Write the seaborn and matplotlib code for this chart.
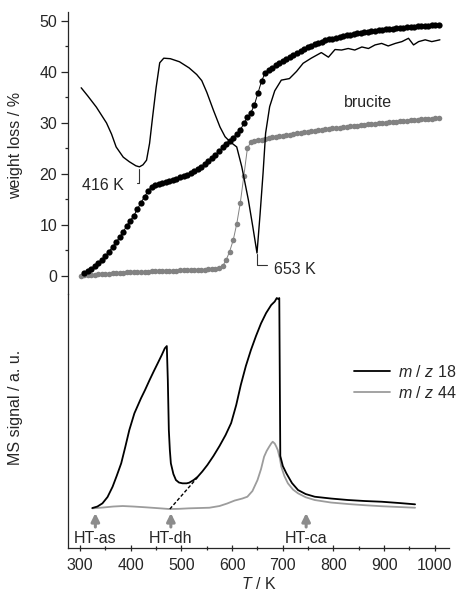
import matplotlib.pyplot as plt
import seaborn as sns
import numpy as np
from matplotlib.ticker import MultipleLocator

# --- data ---

# TG sampling temperatures (K), one point every 7 K
tg_temp = np.arange(301, 1009, 7)

# weight loss of the HT sample (black dots), starts at 308 K
tg_ht = [0.6, 1.0, 1.45, 1.9, 2.55, 3.2, 3.95, 4.8, 5.7, 6.65,
         7.6, 8.65, 9.85, 10.85, 11.85, 13.1, 14.4, 15.5, 16.7, 17.45,
         17.8, 18.0, 18.2, 18.4, 18.6, 18.85, 19.1, 19.35, 19.6, 19.85,
         20.2, 20.6, 21.0, 21.4, 21.95, 22.55, 23.15, 23.8, 24.5, 25.2,
         25.95, 26.55, 27.1, 27.85, 28.6, 29.9, 31.1, 32.0, 33.6, 35.9,
         38.2, 39.8, 40.4, 40.8, 41.3, 41.7, 42.1, 42.5, 42.9, 43.4,
         43.8, 44.2, 44.5, 44.85, 45.15, 45.4, 45.7, 45.95, 46.2, 46.4,
         46.55, 46.7, 46.85, 47.0, 47.15, 47.25, 47.4, 47.55, 47.7, 47.8,
         47.9, 48.0, 48.1, 48.2, 48.25, 48.35, 48.4, 48.5, 48.55, 48.65,
         48.7, 48.8, 48.85, 48.9, 48.95, 49.0, 49.05, 49.1, 49.15, 49.2,
         49.3]

# weight loss of brucite (grey dots), starts at 301 K
tg_brucite = [0.0, 0.1, 0.15, 0.2, 0.25, 0.3, 0.35, 0.4, 0.45, 0.5,
              0.55, 0.6, 0.65, 0.7, 0.72, 0.75, 0.78, 0.8, 0.82, 0.85,
              0.88, 0.9, 0.92, 0.95, 0.98, 1.0, 1.03, 1.06, 1.1, 1.12,
              1.14, 1.16, 1.18, 1.2, 1.22, 1.26, 1.3, 1.38, 1.46, 1.55,
              1.9, 3.1, 4.8, 7.0, 10.2, 14.3, 19.6, 25.0, 26.3, 26.45,
              26.6, 26.75, 26.9, 27.05, 27.2, 27.3, 27.4, 27.5, 27.6, 27.7,
              27.85, 28.0, 28.1, 28.2, 28.3, 28.4, 28.5, 28.55, 28.65, 28.75,
              28.85, 28.95, 29.0, 29.1, 29.2, 29.25, 29.35, 29.4, 29.5, 29.55,
              29.6, 29.7, 29.75, 29.85, 29.9, 30.0, 30.05, 30.1, 30.2, 30.25,
              30.3, 30.4, 30.45, 30.5, 30.55, 30.6, 30.7, 30.75, 30.8, 30.85,
              30.9, 30.95]

# DTG curve (thin black line, arbitrary units on the % scale)
dtg_temp = [302, 315, 332, 352, 362, 371, 385, 397, 410, 417,
            424, 431, 437, 443, 450, 457, 465, 478, 496, 515,
            530, 540, 550, 563, 576, 586, 596, 609, 619, 632,
            641, 649, 655, 661, 666, 674, 684, 697, 713, 727,
            740, 756, 776, 790, 803, 816, 829, 842, 856, 869,
            882, 895, 908, 922, 935, 948, 958, 968, 981, 994, 1010]
dtg_val = [36.9, 35.3, 33.1, 30.0, 27.8, 25.3, 23.3, 22.4, 21.6, 21.4,
           21.8, 22.7, 26.0, 31.2, 37.0, 41.8, 42.7, 42.6, 42.0, 40.8,
           39.5, 38.3, 36.0, 32.5, 29.2, 27.3, 26.3, 25.3, 21.4, 14.9,
           9.5, 4.5, 12.0, 20.2, 28.0, 33.2, 36.3, 38.4, 38.7, 40.1,
           41.7, 42.7, 43.8, 42.9, 44.4, 44.3, 44.6, 44.3, 44.9, 44.6,
           45.3, 45.6, 45.1, 45.6, 45.95, 46.6, 45.3, 45.95, 46.3, 45.95, 46.3]

# MS signal m/z 18 (arbitrary units)
ms18_temp = [324, 334, 344, 354, 364, 372, 381, 389, 397, 407,
             420, 428, 437, 445, 453, 461, 467, 471, 473, 475,
             477, 479, 484, 489, 495, 502, 510, 515, 524, 532,
             541, 551, 563, 575, 587, 598, 608, 617, 627, 637, 647,
             657, 667, 677, 684, 688, 691, 693, 695, 700, 707,
             718, 730, 745, 763, 795, 829, 862, 895, 930, 961]
ms18 = [40, 41.5, 44.7, 51, 61.3, 72, 84.7, 101, 118, 134.7,
        149.7, 158, 168, 176.5, 184.7, 193, 199.7, 202, 168, 118,
        98, 84.7, 74, 68, 65.5, 64.7, 64.7, 65.3, 68, 71.3,
        76.5, 83, 92, 102, 113, 125, 143, 163, 182, 198, 212,
        224.7, 235, 243, 246.5, 250, 249, 250, 92, 82, 74.7,
        65, 58, 54, 51.3, 49.5, 48, 47, 46.3, 45, 43.7]

# MS signal m/z 44
ms44_temp = [324, 345, 365, 384, 405, 430, 455, 476, 495, 515,
             535, 555, 575, 590, 605, 620, 630, 640, 650, 657,
             663, 668, 673, 677, 680, 684, 687, 690, 694, 697,
             703, 710, 720, 730, 745, 763, 795, 829, 862, 895,
             930, 961]
ms44 = [39.7, 40.5, 41.5, 42, 41.5, 40.7, 39.8, 39, 39.2, 39.7,
        40, 40.3, 42, 44.5, 47.5, 49.5, 51.3, 57, 68, 79,
        91.3, 97, 101.3, 104.5, 106.3, 104.5, 101.5, 98, 90, 81.3,
        72, 64.7, 58.5, 54.7, 50.8, 48, 45.5, 44, 42.8, 41.8,
        41, 40.3]

# extrapolated baseline (dashed)
dash_temp = [477, 534]
dash_val = [39, 72]

# stages marked by arrows
stage_temp = [330, 479, 746]
stage_labels = ['HT-as', 'HT-dh', 'HT-ca']

# --- style ---
sns.set_theme(style='ticks')
plt.rcParams['font.family'] = ['Liberation Sans', 'DejaVu Sans']
plt.rcParams['mathtext.fontset'] = 'custom'
plt.rcParams['mathtext.rm'] = 'Liberation Sans'
plt.rcParams['mathtext.it'] = 'Liberation Sans:italic'
FS = 11.5
GREY_DOT = '#828282'
GREY_LINE = '#9c9c9c'

fig = plt.figure(figsize=(4.62, 5.99), dpi=100)
ax_top = fig.add_axes([0.1472, 0.5092, 0.8247, 0.4708])
ax_bot = fig.add_axes([0.1472, 0.0851, 0.8247, 0.4240], sharex=ax_top)

# top panel: TG / DTG
sns.lineplot(x=tg_temp, y=tg_brucite, ax=ax_top, color=GREY_DOT, linewidth=0.7,
             marker='o', markersize=4.0, markeredgewidth=0, sort=False,
             estimator=None, zorder=2)
sns.lineplot(x=tg_temp[1:], y=tg_ht, ax=ax_top, color='black', linewidth=0.7,
             marker='o', markersize=4.5, markeredgewidth=0, sort=False,
             estimator=None, zorder=3)
sns.lineplot(x=dtg_temp, y=dtg_val, ax=ax_top, color='black', linewidth=1.0,
             sort=False, estimator=None, zorder=4)

# peak markers
ax_top.plot([416, 416, 413], [20.9, 18.3, 18.3], color='#333333', lw=0.8)
ax_top.text(304, 17.8, '416 K', fontsize=FS, ha='left', va='center')
ax_top.plot([649, 649, 669], [4.4, 2.2, 2.2], color='#333333', lw=0.8)
ax_top.text(683, 1.2, '653 K', fontsize=FS, ha='left', va='center')
ax_top.text(868, 34.1, 'brucite', fontsize=FS, ha='center', va='center')

ax_top.set_ylim(-3.53, 51.76)
ax_top.set_yticks([0, 10, 20, 30, 40, 50])
ax_top.yaxis.set_minor_locator(MultipleLocator(5))
ax_top.tick_params(axis='y', which='major', direction='out', length=4.8, width=0.9,
                   labelsize=FS, pad=3)
ax_top.tick_params(axis='y', which='minor', direction='out', length=2.5, width=0.9)
ax_top.tick_params(axis='x', which='both', bottom=False, labelbottom=False)
for s in ['top', 'right', 'bottom']:
    ax_top.spines[s].set_visible(False)
ax_top.spines['left'].set_linewidth(0.9)
ax_top.set_ylabel('weight loss / %', fontsize=FS)
ax_top.yaxis.set_label_coords(-0.117, 0.528)
ax_top.set_facecolor('none')

# bottom panel: MS
sns.lineplot(x=ms44_temp, y=ms44, ax=ax_bot, color=GREY_LINE, linewidth=1.3,
             sort=False, estimator=None, label='$m$ / $z$ 44', zorder=2)
sns.lineplot(x=ms18_temp, y=ms18, ax=ax_bot, color='black', linewidth=1.3,
             sort=False, estimator=None, label='$m$ / $z$ 18', zorder=3)
ax_bot.plot(dash_temp, dash_val, color='black', lw=1.0, ls=(0, (2.5, 1.5)))

for t, lab in zip(stage_temp, stage_labels):
    ax_bot.annotate('', xy=(t, 35), xytext=(t, 21),
                    arrowprops=dict(arrowstyle='-|>', color='#8c8c8c', lw=2.2,
                                    mutation_scale=12, shrinkA=0, shrinkB=0))
    ax_bot.text(t, 10, lab, fontsize=FS, ha='center', va='center')

handles, labels = ax_bot.get_legend_handles_labels()
ax_bot.legend(handles[::-1], labels[::-1], loc='center left',
              bbox_to_anchor=(0.75, 0.652), frameon=False, fontsize=FS,
              borderpad=0, borderaxespad=0, handlelength=2.25,
              handletextpad=0.55, labelspacing=0.3)

ax_bot.set_ylim(0, 254)
ax_bot.set_yticks([])
ax_bot.set_xlim(276, 1028)
ax_bot.set_xticks([300, 400, 500, 600, 700, 800, 900, 1000])
ax_bot.xaxis.set_minor_locator(MultipleLocator(50))
ax_bot.tick_params(axis='x', which='major', direction='inout', length=5, width=0.9,
                   labelsize=FS, pad=5)
ax_bot.tick_params(axis='x', which='minor', direction='inout', length=3, width=0.9)
for s in ['top', 'right']:
    ax_bot.spines[s].set_visible(False)
ax_bot.spines['left'].set_linewidth(0.9)
ax_bot.spines['bottom'].set_linewidth(0.9)
ax_bot.set_ylabel('MS signal / a. u.', fontsize=FS)
ax_bot.yaxis.set_label_coords(-0.117, 0.555)
ax_bot.set_xlabel('$T$ / K', fontsize=FS, labelpad=2)
ax_bot.set_facecolor('none')

fig.savefig('out.png', dpi=100)
